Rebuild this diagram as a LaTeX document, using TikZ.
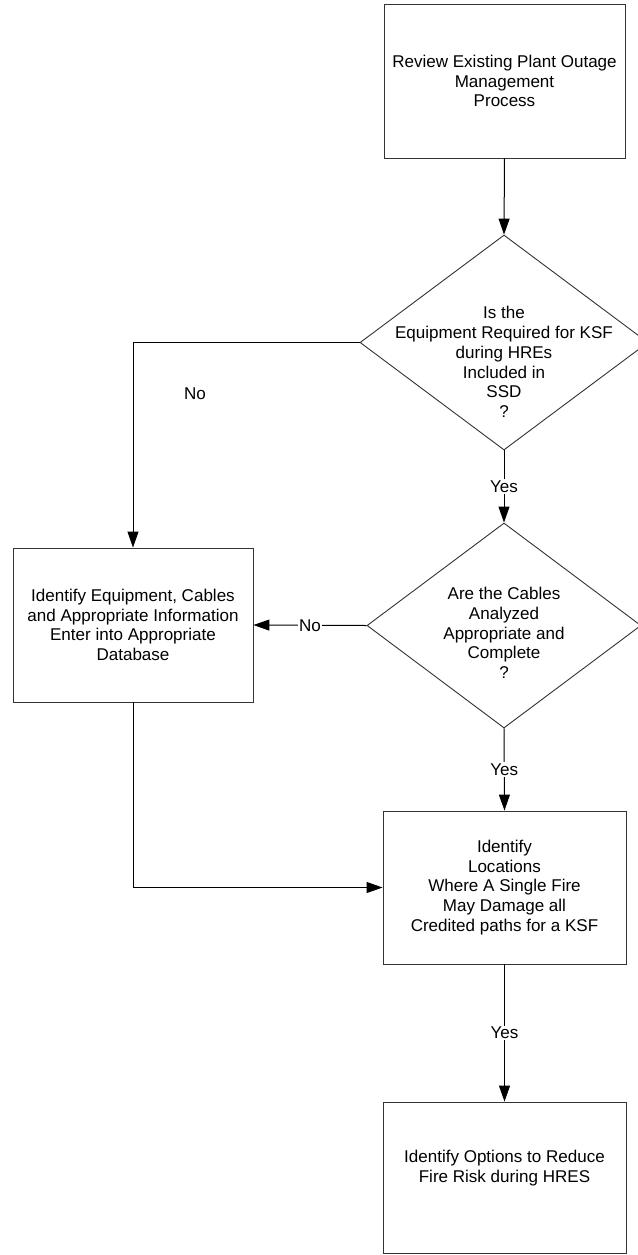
\documentclass[tikz,border=0pt]{standalone}
\usepackage{fontspec}
\setmainfont{Liberation Sans}
\usetikzlibrary{arrows.meta,shapes.geometric}
\begin{document}
\begin{tikzpicture}[x=1bp,y=-1bp,
  every node/.style={font=\fontsize{17.1}{19.8}\selectfont, align=center},
  procbox/.style={draw=black!80, line width=0.9bp, rectangle, inner sep=0pt},
  decbox/.style={draw=black!80, line width=0.9bp, diamond, inner sep=0pt},
  flow/.style={draw=black, line width=1bp, -{Triangle[length=16bp,width=11bp]}},
  lbl/.style={fill=white, inner sep=1.5bp}
]
\clip (0,0) rectangle (638,1255);
\fill[white] (0,0) rectangle (638,1255);

% process steps and decisions
\node[procbox, minimum width=241bp, minimum height=154bp] (review) at (504.5,81)
  {Review Existing Plant Outage\\Management\\Process};
\node[decbox, minimum width=288bp, minimum height=215bp] (q1) at (504,342.5) {};
\node (q1t) at (504,362) {Is the\\Equipment Required for KSF\\during HREs\\Included in\\SSD\\?};
\node[procbox, minimum width=240bp, minimum height=154bp] (ident) at (133,625)
  {Identify Equipment, Cables\\and Appropriate Information\\Enter into Appropriate\\Database};
\node[decbox, minimum width=274bp, minimum height=205bp] (q2) at (504,625.5) {};
\node (q2t) at (504,633) {Are the Cables\\Analyzed\\Appropriate and\\Complete\\?};
\node[procbox, minimum width=243bp, minimum height=153bp] (loc) at (504.5,887.5)
  {Identify\\Locations\\Where A Single Fire\\May Damage all\\Credited paths for a KSF};
\node[procbox, minimum width=243bp, minimum height=151bp] (opts) at (504.5,1177.5) {};
\node (optst) at (504.5,1168) {Identify Options to Reduce\\Fire Risk during HRES};

% connectors
\path[flow] (review.south) -- (q1.north);
\path[flow] (q1.west) -| (ident.north);
\node (no1) at (195,394) {No};
\path[flow] (q1.south) -- node[lbl] (yes1) {Yes} (q2.north);
\path[flow] (q2.west) -- node[lbl] (no2) {No} (ident.east);
\path[flow] (q2.south) -- node[lbl] (yes2) {Yes} (loc.north);
\path[flow] (ident.south) |- (loc.west);
\path[flow] (loc.south) -- node[lbl] (yes3) {Yes} (opts.north);
\end{tikzpicture}
\end{document}
